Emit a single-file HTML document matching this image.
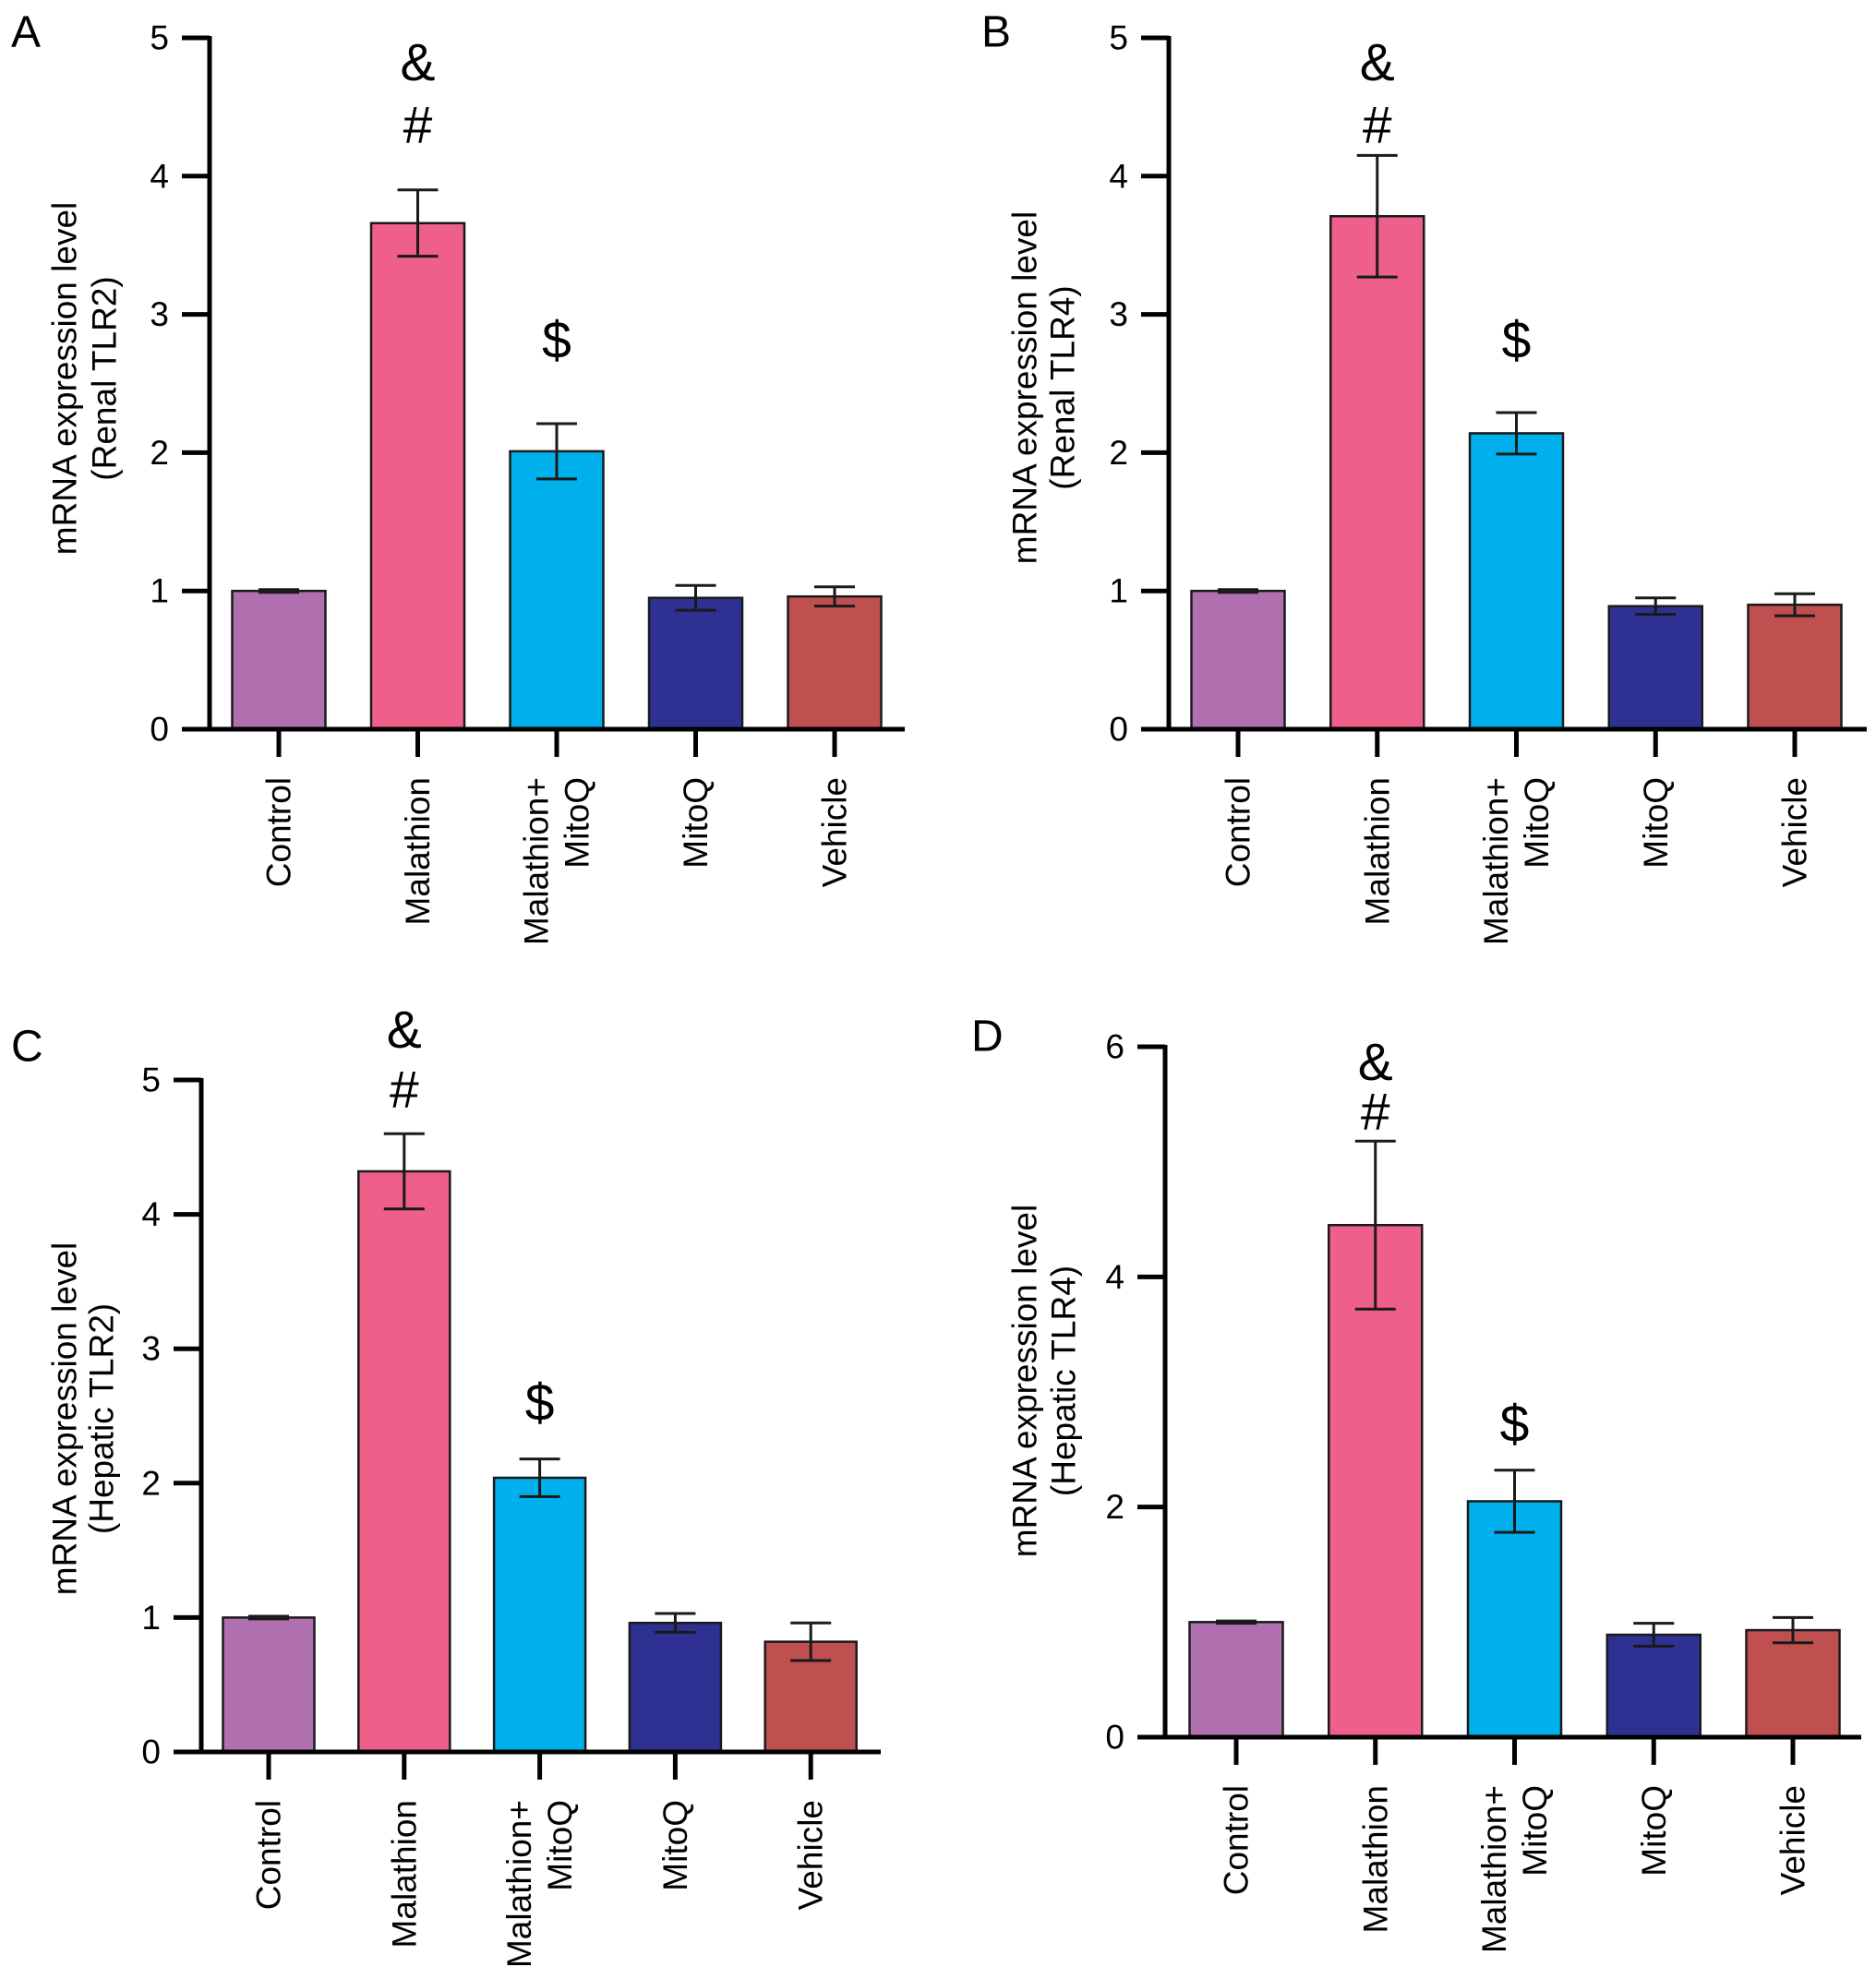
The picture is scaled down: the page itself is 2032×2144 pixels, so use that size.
<!DOCTYPE html>
<html><head><meta charset="utf-8"><style>
html,body{margin:0;padding:0;background:#fff;}
svg{display:block;font-family:"Liberation Sans",Arial,sans-serif;}
</style></head><body>
<svg id="fig" width="2032" height="2144" viewBox="0 0 2032 2144" xmlns="http://www.w3.org/2000/svg"></svg>
<script>
const categories = ["Control","Malathion","Malathion+|MitoQ","MitoQ","Vehicle"];
const barColors = ["#b070b0","#ee5f8a","#00b0ec","#2e3192","#c05050"];
const valuesA = [1.0, 3.66, 2.01, 0.95, 0.96];
const errorsA = [0.01, 0.24, 0.20, 0.09, 0.07];
const valuesB = [1.0, 3.71, 2.14, 0.89, 0.90];
const errorsB = [0.01, 0.44, 0.15, 0.06, 0.08];
const valuesC = [1.0, 4.32, 2.04, 0.96, 0.82];
const errorsC = [0.01, 0.28, 0.14, 0.07, 0.14];
const valuesD = [1.0, 4.45, 2.05, 0.89, 0.93];
const errorsD = [0.01, 0.73, 0.27, 0.10, 0.11];
const ticksABC = [0,1,2,3,4,5];
const ticksD = [0,2,4,6];
const annotations = [["&","#"],["$"]];

const NS = "http://www.w3.org/2000/svg";
const svg = document.getElementById("fig");
function mk(tag, attrs, parent, text){
  const e = document.createElementNS(NS, tag);
  for (const k in attrs) e.setAttribute(k, attrs[k]);
  if (text !== undefined) e.textContent = text;
  (parent || svg).appendChild(e);
  return e;
}

function panel(p){
  const g = mk("g", {});
  
  
  const ymax = p.ticks[p.ticks.length-1];
  const yS = v => p.y0 - (p.y0 - p.yTop) * v / ymax;
  const xS = i => p.c0 + p.step * i;

  const letter = mk("text", {x:p.lx, y:p.ly, "font-size":48, "dominant-baseline":"central"}, g, p.letter);
  
  

  p.values.forEach((v,i)=>{
    const b = mk("rect", {x:xS(i)-p.bw/2, y:yS(v), width:p.bw, height:p.y0-yS(v), fill:barColors[i], stroke:"#1a1a1a", "stroke-width":2.5}, g);
    
    
    const e = p.errors[i];
    const eg = mk("g", {stroke:"#1a1a1a", "stroke-width":3, fill:"none"}, g);
    
    
    mk("line", {x1:xS(i), x2:xS(i), y1:yS(v+e), y2:yS(v-e)}, eg);
    mk("line", {x1:xS(i)-22, x2:xS(i)+22, y1:yS(v+e), y2:yS(v+e)}, eg);
    mk("line", {x1:xS(i)-22, x2:xS(i)+22, y1:yS(v-e), y2:yS(v-e)}, eg);
  });

  const ax = mk("g", {stroke:"#000", "stroke-width":5, "stroke-linecap":"butt"}, g);
  
  
  mk("line", {x1:p.ax, x2:p.ax, y1:yS(ymax)-2, y2:p.y0+2}, ax);
  mk("line", {x1:p.ax-30, x2:p.xEnd, y1:p.y0, y2:p.y0}, ax);
  p.ticks.forEach(t=>{
    mk("line", {x1:p.ax-30, x2:p.ax, y1:yS(t), y2:yS(t)}, ax);
    const tl = mk("text", {x:p.ax-44, y:yS(t), "font-size":37, "text-anchor":"end", "dominant-baseline":"central"}, g, String(t));
    
    
  });
  categories.forEach((c,i)=>{
    mk("line", {x1:xS(i), x2:xS(i), y1:p.y0, y2:p.y0+30}, ax);
    const parts = c.split("|");
    parts.forEach((s,j)=>{
      const off = parts.length===1 ? 0 : (j===0 ? -22 : 22);
      const xx = xS(i)+off, yy = p.y0+52;
      const t = mk("text", {x:xx, y:yy, "font-size":37, "text-anchor":"end", "dominant-baseline":"central", transform:`rotate(-90 ${xx} ${yy})`}, g, s);
      
      
    });
  });

  [["mRNA expression level", p.t1x],["(" + p.title + ")", p.t2x]].forEach(([s,x])=>{
    const t = mk("text", {x:x, y:p.tcy, "font-size":37, "text-anchor":"middle", "dominant-baseline":"central", transform:`rotate(-90 ${x} ${p.tcy})`}, g, s);
    
    
  });

  const a1 = mk("text", {x:xS(1), y:p.ampY, "font-size":57, "text-anchor":"middle", "dominant-baseline":"central"}, g, annotations[0][0]);
  
  
  const a2 = mk("text", {x:xS(1), y:p.hashY, "font-size":57, "text-anchor":"middle", "dominant-baseline":"central"}, g, annotations[0][1]);
  
  
  const a3 = mk("text", {x:xS(2), y:p.dolY, "font-size":57, "text-anchor":"middle", "dominant-baseline":"central"}, g, annotations[1][0]);
  
  
}

panel({letter:"A", lx:12, ly:35, values:valuesA, errors:errorsA, ticks:ticksABC, ax:227, y0:790, yTop:41, xEnd:980, c0:302, step:150.5, bw:101, title:"Renal TLR2", t1x:70, t2x:113, tcy:410, ampY:68, hashY:136, dolY:369});
panel({letter:"B", lx:1063, ly:35, values:valuesB, errors:errorsB, ticks:ticksABC, ax:1266, y0:790, yTop:41, xEnd:2022, c0:1341, step:150.75, bw:101, title:"Renal TLR4", t1x:1110, t2x:1151, tcy:420, ampY:68, hashY:136, dolY:369});
panel({letter:"C", lx:12, ly:1134, values:valuesC, errors:errorsC, ticks:ticksABC, ax:218, y0:1898, yTop:1170, xEnd:954, c0:291, step:146.8, bw:99, title:"Hepatic TLR2", t1x:70, t2x:110, tcy:1537, ampY:1116, hashY:1181, dolY:1520});
panel({letter:"D", lx:1052, ly:1123, values:valuesD, errors:errorsD, ticks:ticksD, ax:1262, y0:1882, yTop:1134, xEnd:2016, c0:1339, step:150.75, bw:101, title:"Hepatic TLR4", t1x:1110, t2x:1152, tcy:1496, ampY:1151, hashY:1205, dolY:1543});
</script>
</body></html>
